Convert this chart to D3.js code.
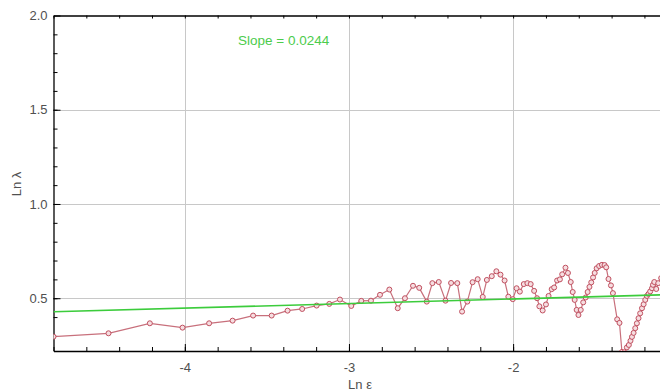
<!DOCTYPE html>
<html>
<head>
<meta charset="utf-8">
<script src="https://cdn.jsdelivr.net/npm/d3@7"></script>
<style>
  body { margin: 0; background: #fff; }
  svg { display: block; font-family: "Liberation Sans", Arial, sans-serif; }
  .axis path, .axis line { stroke: #000; }
  .axis text { fill: #505050; font-size: 13px; }
</style>
</head>
<body>
<div id="chart"></div>
<script>
// Ln epsilon (x) and Ln lambda (y)
const lnEps = [
  -4.800, -4.465, -4.213, -4.014, -3.852, -3.709, -3.584, -3.471, -3.374, -3.285,
  -3.197, -3.120, -3.055, -2.986, -2.925, -2.866, -2.811, -2.754, -2.703, -2.659,
  -2.610, -2.572, -2.526, -2.492, -2.453, -2.412, -2.378, -2.340, -2.311, -2.279,
  -2.247, -2.216, -2.185, -2.160, -2.130, -2.102, -2.077, -2.052, -2.029, -2.002,
  -1.979, -1.959, -1.935, -1.913, -1.893, -1.872, -1.854, -1.840, -1.820, -1.800,
  -1.784, -1.765, -1.750, -1.732, -1.715, -1.701, -1.681, -1.666, -1.649, -1.637,
  -1.625, -1.613, -1.602, -1.588, -1.573, -1.558, -1.546, -1.535, -1.524, -1.513,
  -1.503, -1.491, -1.476, -1.459, -1.443, -1.433, -1.419, -1.404, -1.392, -1.366,
  -1.352, -1.337, -1.323, -1.307, -1.295, -1.285, -1.276, -1.266, -1.256, -1.246,
  -1.236, -1.226, -1.215, -1.205, -1.195, -1.185, -1.175, -1.165, -1.154, -1.148,
  -1.140, -1.128, -1.116, -1.098
];
const lnLambda = [
  0.296, 0.314, 0.367, 0.344, 0.367, 0.381, 0.408, 0.408, 0.434, 0.443,
  0.461, 0.470, 0.493, 0.459, 0.486, 0.487, 0.518, 0.546, 0.447, 0.500,
  0.566, 0.555, 0.482, 0.580, 0.586, 0.487, 0.581, 0.580, 0.429, 0.482,
  0.585, 0.601, 0.507, 0.597, 0.617, 0.643, 0.625, 0.594, 0.508, 0.495,
  0.553, 0.535, 0.575, 0.580, 0.575, 0.539, 0.500, 0.457, 0.435, 0.467,
  0.512, 0.548, 0.557, 0.594, 0.600, 0.627, 0.662, 0.634, 0.586, 0.533,
  0.491, 0.438, 0.411, 0.438, 0.478, 0.504, 0.533, 0.560, 0.584, 0.610,
  0.634, 0.659, 0.671, 0.677, 0.676, 0.664, 0.602, 0.568, 0.527, 0.388,
  0.369, 0.215, 0.213, 0.239, 0.252, 0.274, 0.295, 0.316, 0.341, 0.367,
  0.394, 0.420, 0.447, 0.468, 0.491, 0.512, 0.523, 0.536, 0.553, 0.571,
  0.586, 0.549, 0.580, 0.607
];
// fitted line end points
const fitX = [-4.8, -1.098];
const fitY = [0.428, 0.518];
const slopeText = "Slope = 0.0244";

const xTicks = [-4, -3, -2];
const yTicks = [0.5, 1.0, 1.5, 2.0];

const W = 660, H = 392;
const m = { left: 53.5, top: 15.5, bottom: 351, right: 662 };

const svg = d3.select("#chart").append("svg")
  .attr("width", W).attr("height", H);

const x = d3.scaleLinear().domain([-4.8, -1.093]).range([m.left, m.right]);
const y = d3.scaleLinear().domain([0.22, 2.0]).range([m.bottom, m.top]);

const xMinor = d3.range(-4.8, -1.0, 0.2);
const yMinor = d3.range(0.3, 2.0, 0.1);

// grid
svg.append("g").selectAll("line").data(xTicks).join("line")
  .attr("x1", d => Math.round(x(d)) + 0.5).attr("x2", d => Math.round(x(d)) + 0.5)
  .attr("y1", m.top).attr("y2", m.bottom)
  .attr("stroke", "#c8c8c8");
svg.append("g").selectAll("line").data(yTicks.filter(d => d < 2)).join("line")
  .attr("y1", d => Math.round(y(d)) + 0.5).attr("y2", d => Math.round(y(d)) + 0.5)
  .attr("x1", m.left).attr("x2", m.right)
  .attr("stroke", "#c8c8c8");

// axes: minor ticks then major ticks with labels
svg.append("g").attr("class", "axis")
  .attr("transform", `translate(0,${m.bottom})`)
  .call(d3.axisBottom(x).tickValues(xMinor).tickSizeInner(-4).tickSizeOuter(0).tickFormat(""));
svg.append("g").attr("class", "axis")
  .attr("transform", `translate(0,${m.bottom})`)
  .call(d3.axisBottom(x).tickValues(xTicks).tickSizeInner(-7).tickSizeOuter(0).tickPadding(12).tickFormat(d => String(d)))
  .call(g => g.select(".domain").remove());

svg.append("g").attr("class", "axis")
  .attr("transform", `translate(0,${m.top})`)
  .call(d3.axisTop(x).tickValues(xMinor).tickSizeInner(-3).tickSizeOuter(0).tickFormat(""));

svg.append("g").attr("class", "axis")
  .attr("transform", `translate(${m.left},0)`)
  .call(d3.axisLeft(y).tickValues(yMinor).tickSizeInner(-4).tickSizeOuter(0).tickFormat(""));
svg.append("g").attr("class", "axis")
  .attr("transform", `translate(${m.left},0)`)
  .call(d3.axisLeft(y).tickValues(yTicks).tickSizeInner(-7).tickSizeOuter(0).tickPadding(6).tickFormat(d3.format(".1f")))
  .call(g => g.select(".domain").remove());

svg.selectAll(".axis .domain").attr("stroke-width", 1.3);

// axis titles
svg.append("text")
  .attr("x", 360).attr("y", 389)
  .attr("text-anchor", "middle")
  .attr("font-size", 13).attr("fill", "#505050")
  .text("Ln ε");
svg.append("text")
  .attr("transform", "translate(21,184) rotate(-90)")
  .attr("text-anchor", "middle")
  .attr("font-size", 13).attr("fill", "#505050")
  .text("Ln λ");

// plot clip
svg.append("clipPath").attr("id", "plot")
  .append("rect").attr("x", m.left).attr("y", m.top)
  .attr("width", m.right - m.left).attr("height", m.bottom - m.top);

const plot = svg.append("g").attr("clip-path", "url(#plot)");

const pts = lnEps.map((d, i) => [d, lnLambda[i]]);

plot.append("path")
  .datum(pts)
  .attr("fill", "none")
  .attr("stroke", "#c8707c")
  .attr("stroke-width", 1.2)
  .attr("d", d3.line().x(d => x(d[0])).y(d => y(d[1])));

plot.selectAll("circle").data(pts).join("circle")
  .attr("cx", d => x(d[0])).attr("cy", d => y(d[1]))
  .attr("r", 2.5)
  .attr("fill", "#f6dde0")
  .attr("stroke", "#c05060")
  .attr("stroke-width", 1);

plot.append("path")
  .datum(fitX.map((d, i) => [d, fitY[i]]))
  .attr("fill", "none")
  .attr("stroke", "#3ccc3c")
  .attr("stroke-width", 1.6)
  .attr("d", d3.line().x(d => x(d[0])).y(d => y(d[1])));

svg.append("text")
  .attr("x", 238).attr("y", 45)
  .attr("font-size", 13.5).attr("fill", "#4ccc4c")
  .text(slopeText);
</script>
</body>
</html>
